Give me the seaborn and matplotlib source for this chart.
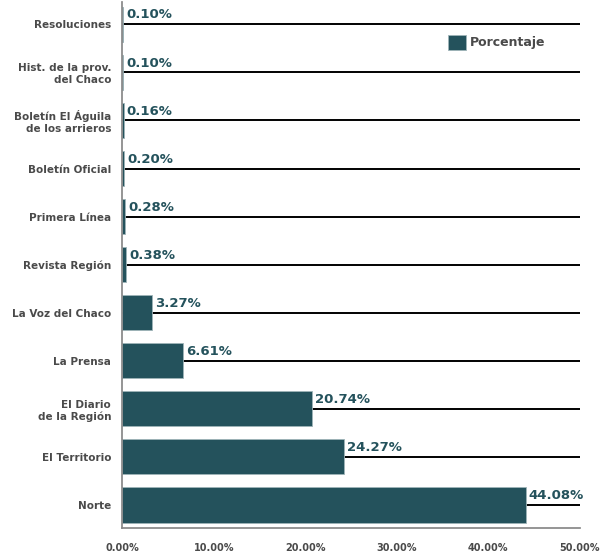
import matplotlib.pyplot as plt
import seaborn as sns
import pandas as pd

# dati
medios = ['Resoluciones', 'Hist. de la prov.\ndel Chaco', 'Boletín El Águila\nde los arrieros',
          'Boletín Oficial', 'Primera Línea', 'Revista Región', 'La Voz del Chaco',
          'La Prensa', 'El Diario\nde la Región', 'El Territorio', 'Norte']
porcentaje = [0.10, 0.10, 0.16, 0.20, 0.28, 0.38, 3.27, 6.61, 20.74, 24.27, 44.08]
ticks = [0, 10, 20, 30, 40, 50]

df = pd.DataFrame({'Medio': medios, 'Porcentaje': porcentaje})

sns.set_theme(style='white')
plt.rcParams['font.family'] = ['DejaVu Sans']
plt.rcParams['font.weight'] = 'bold'

colore = '#24525c'

fig = plt.figure(figsize=(6.02, 5.60), dpi=100)
ax = fig.add_axes([0.203, 0.057, 0.76, 0.939])

# linee orizzontali dietro le barre
for i in range(len(medios)):
    ax.axhline(i, color='black', lw=1.4, zorder=0)

sns.barplot(data=df, x='Porcentaje', y='Medio', orient='h', color=colore,
            saturation=1, width=0.73, edgecolor='#9fb4b8', linewidth=0.6,
            label='Porcentaje', ax=ax, zorder=2)

for i, v in enumerate(porcentaje):
    ax.text(v + 0.35, i - 0.06, f'{v:.2f}%', color=colore, fontsize=9.5,
            fontweight='bold', va='bottom', ha='left')

ax.set_xlim(0, 50)
ax.set_ylim(len(medios) - 0.52, -0.46)
ax.set_xticks(ticks)
ax.set_xticklabels([f'{t:.2f}%' for t in ticks])
ax.set_xlabel('')
ax.set_ylabel('')
ax.tick_params(axis='x', direction='in', length=5, color='#777777', labelsize=7,
               labelcolor='#4a4a4a', pad=11)
ax.tick_params(axis='y', length=0, labelsize=7.5, labelcolor='#4a4a4a', pad=8)
for lab in ax.get_xticklabels() + ax.get_yticklabels():
    lab.set_fontweight('bold')

sns.despine(ax=ax, top=True, right=True)
ax.spines['left'].set_color('#888888')
ax.spines['bottom'].set_color('#888888')

leg = ax.legend(loc='upper right', bbox_to_anchor=(0.95, 0.96), frameon=False,
                handlelength=1.5, handleheight=1.5, handletextpad=0.3, fontsize=9)
for t in leg.get_texts():
    t.set_color('#4a4a4a')
    t.set_fontweight('bold')

plt.savefig('out.png', dpi=100, facecolor='white')
